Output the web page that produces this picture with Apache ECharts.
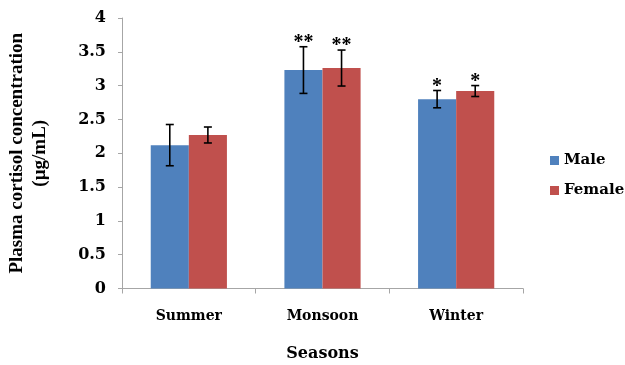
<!DOCTYPE html>
<html>
<head>
<meta charset="utf-8">
<script src="https://cdn.jsdelivr.net/npm/echarts@6/dist/echarts.min.js"></script>
<style>
  html, body { margin: 0; padding: 0; background: #fff; }
  #chart { width: 625px; height: 365px; }
</style>
</head>
<body>
<div id="chart"></div>
<script>
// Plasma cortisol by season and sex (mean ± SD)
const seasons = ['Summer', 'Monsoon', 'Winter'];
const maleMean = [2.12, 3.23, 2.80];
const femaleMean = [2.27, 3.26, 2.92];
const maleSD = [0.305, 0.345, 0.128];
const femaleSD = [0.118, 0.266, 0.081];
const maleSig = ['', '**', '*'];
const femaleSig = ['', '**', '*'];
const yTicks = { min: 0, max: 4, interval: 0.5 };

const BLUE = '#4F81BD';
const RED = '#C0504D';
const AXIS = '#a6a6a6';
const GAP = 0.43; // category gap share

function errData(means, sds) {
  return means.map((m, i) => [i, m, sds[i]]);
}

// Whisker + significance marker, offset to sit over its own bar
function makeErrRender(side, sigs) {
  return function (params, api) {
    const ci = api.value(0);
    const mean = api.value(1);
    const sd = api.value(2);
    const sig = sigs[params.dataIndex];
    const band = api.size([1, 0])[0];
    const barW = band * (1 - GAP) / 2;
    const c = api.coord([ci, mean]);
    const x = c[0] + side * barW / 2;
    const top = api.coord([ci, mean + sd])[1];
    const bot = api.coord([ci, mean - sd])[1];
    const cap = 4;
    const style = { stroke: '#000', lineWidth: 1.6 };
    const children = [
      { type: 'line', shape: { x1: x, y1: top, x2: x, y2: bot }, style },
      { type: 'line', shape: { x1: x - cap, y1: top, x2: x + cap, y2: top }, style },
      { type: 'line', shape: { x1: x - cap, y1: bot, x2: x + cap, y2: bot }, style }
    ];
    if (sig) {
      children.push({
        type: 'text',
        style: {
          text: sig, x: x, y: top + 6,
          align: 'center', verticalAlign: 'bottom',
          font: 'bold 20px "Liberation Serif"', fill: '#000'
        }
      });
    }
    return { type: 'group', children };
  };
}

const chart = echarts.init(document.getElementById('chart'), null, { renderer: 'canvas' });
chart.setOption({
  animation: false,
  backgroundColor: '#fff',
  grid: { left: 122, right: 102, top: 18, bottom: 76.5, containLabel: false, outerBoundsMode: 'none' },
  legend: {
    data: ['Male', 'Female'],
    orient: 'vertical',
    left: 545, top: 147,
    itemWidth: 9, itemHeight: 9, itemGap: 13,
    icon: 'rect',
    textStyle: { fontFamily: 'DejaVu Serif', fontWeight: 'bold', fontSize: 15, color: '#000', lineHeight: 17 }
  },
  xAxis: {
    type: 'category',
    data: seasons,
    axisLine: { lineStyle: { color: AXIS, width: 1 } },
    axisTick: { show: true, length: 5, lineStyle: { color: AXIS } },
    axisLabel: { margin: 21, color: '#000', fontFamily: 'DejaVu Serif', fontWeight: 'bold', fontSize: 14 },
    name: 'Seasons',
    nameLocation: 'middle',
    nameGap: 57,
    nameTextStyle: { color: '#000', fontFamily: 'DejaVu Serif', fontWeight: 'bold', fontSize: 16 }
  },
  yAxis: {
    type: 'value',
    min: yTicks.min, max: yTicks.max, interval: yTicks.interval,
    splitLine: { show: false },
    axisLine: { show: true, lineStyle: { color: AXIS, width: 1 } },
    axisTick: { show: true, length: 4, lineStyle: { color: AXIS } },
    axisLabel: { margin: 16, color: '#000', fontFamily: 'DejaVu Serif', fontWeight: 'bold', fontSize: 16 },
    name: 'Plasma cortisol concentration\n(\u00b5g/mL)',
    nameLocation: 'middle',
    nameRotate: 90,
    nameGap: 70,
    nameTextStyle: { color: '#000', fontFamily: 'Liberation Serif', fontWeight: 'bold', fontSize: 19, lineHeight: 23, align: 'center' }
  },
  series: [
    {
      name: 'Male', type: 'bar', data: maleMean,
      itemStyle: { color: BLUE },
      barGap: '0%', barCategoryGap: (GAP * 100) + '%'
    },
    {
      name: 'Female', type: 'bar', data: femaleMean,
      itemStyle: { color: RED },
      barGap: '0%', barCategoryGap: (GAP * 100) + '%'
    },
    {
      name: 'Male SD', type: 'custom',
      renderItem: makeErrRender(-1, maleSig),
      data: errData(maleMean, maleSD),
      encode: { x: 0, y: 1 }, z: 5
    },
    {
      name: 'Female SD', type: 'custom',
      renderItem: makeErrRender(1, femaleSig),
      data: errData(femaleMean, femaleSD),
      encode: { x: 0, y: 1 }, z: 5
    }
  ]
});
</script>
</body>
</html>
